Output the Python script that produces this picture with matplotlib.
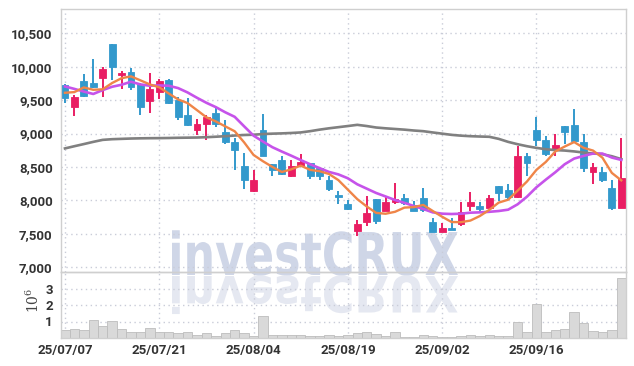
import numpy as np
import pandas as pd
import matplotlib
matplotlib.use('Agg')
import matplotlib.pyplot as plt
from matplotlib.textpath import TextPath
from matplotlib.patches import PathPatch, Rectangle
from matplotlib.font_manager import FontProperties
from matplotlib.transforms import Affine2D, IdentityTransform
from matplotlib.ticker import FuncFormatter

plt.rcParams['font.family'] = ['Roboto', 'DejaVu Sans']
plt.rcParams['mathtext.fontset'] = 'dejavuserif'

# Trading days (15 Aug is a holiday)
days = pd.bdate_range('2025-07-07', '2025-09-29')
days = days[days != pd.Timestamp('2025-08-15')]
dates = [d.strftime('%y/%m/%d') for d in days]

open_ = [9730, 9400, 9790, 9750, 9830, 10340, 9870, 9920, 9740, 9480,
         9620, 9800, 9500, 9280, 9050, 9140, 9300, 9020, 8880, 8520,
         8140, 9050, 8550, 8600, 8360, 8510, 8560, 8480, 8310, 8080,
         7950, 7540, 7680, 8020, 7840, 7980, 8030, 7930, 8030, 7680,
         7530, 7580, 7640, 7920, 7920, 7890, 8210, 8160, 8050, 8660,
         9050, 8900, 8750, 9110, 9130, 8880, 8430, 8420, 8190, 7890]
high = [9740, 9580, 9890, 10110, 9990, 10340, 9940, 9980, 9750, 9900,
        9820, 9820, 9550, 9530, 9220, 9280, 9400, 9200, 8930, 8710,
        8460, 9290, 8550, 8660, 8610, 8690, 8560, 8490, 8360, 8140,
        8010, 7710, 8070, 8020, 8050, 8260, 8090, 7990, 8190, 7730,
        7660, 7740, 7970, 8120, 7970, 8080, 8220, 8250, 8810, 8710,
        9250, 8960, 8990, 9120, 9360, 9000, 8560, 8500, 8300, 8930]
low = [9450, 9260, 9550, 9680, 9550, 9800, 9660, 9650, 9280, 9300,
       9510, 9440, 9200, 9120, 8980, 8910, 9100, 8850, 8460, 8170,
       8120, 8660, 8360, 8380, 8350, 8500, 8320, 8300, 8140, 7950,
       7860, 7460, 7610, 7640, 7840, 7940, 7930, 7840, 7820, 7520,
       7520, 7550, 7610, 7840, 7820, 7890, 7990, 8020, 8040, 8370,
       8810, 8660, 8670, 8850, 8890, 8430, 8250, 8270, 7860, 7890]
close = [9530, 9550, 9560, 9700, 9970, 10000, 9910, 9700, 9400, 9670,
         9790, 9450, 9250, 9130, 9140, 9250, 9140, 8880, 8760, 8310,
         8310, 8670, 8460, 8390, 8510, 8580, 8360, 8360, 8170, 8050,
         7870, 7640, 7810, 7690, 7980, 8020, 7960, 7840, 7860, 7530,
         7580, 7560, 7830, 7980, 7870, 8040, 8110, 8050, 8660, 8560,
         8910, 8700, 8830, 9030, 8890, 8480, 8500, 8300, 7890, 8340]

ma_short = [9610, 9620, 9690, 9655, 9662, 9756, 9828, 9856, 9796, 9735,
            9692, 9600, 9510, 9456, 9350, 9243, 9181, 9107, 9034, 8868,
            8679, 8585, 8500, 8424, 8464, 8519, 8456, 8436, 8394, 8302,
            8160, 8018, 7908, 7812, 7799, 7828, 7891, 7898, 7931, 7841,
            7754, 7675, 7673, 7697, 7765, 7857, 7966, 8009, 8144, 8282,
            8456, 8575, 8731, 8805, 8872, 8786, 8745, 8638, 8410, 8299]
ma_mid = [9705, 9668, 9628, 9592, 9650, 9700, 9730, 9775, 9735, 9715,
          9720, 9715, 9680, 9615, 9535, 9460, 9395, 9318, 9250, 9108,
          8968, 8880, 8795, 8730, 8668, 8603, 8540, 8482, 8425, 8388,
          8330, 8240, 8175, 8110, 8058, 8005, 7962, 7915, 7870, 7820,
          7800, 7795, 7800, 7815, 7820, 7828, 7840, 7860, 7940, 8055,
          8195, 8310, 8420, 8540, 8625, 8665, 8700, 8700, 8640, 8605]
ma_long = [8777, 8810, 8842, 8875, 8905, 8915, 8920, 8925, 8928, 8930,
           8931, 8933, 8936, 8938, 8940, 8945, 8952, 8960, 8970, 8978,
           8982, 8992, 8998, 9002, 9008, 9016, 9035, 9058, 9078, 9095,
           9112, 9130, 9112, 9090, 9078, 9068, 9058, 9045, 9035, 9016,
           8998, 8980, 8968, 8960, 8955, 8951, 8920, 8875, 8840, 8810,
           8785, 8765, 8752, 8745, 8732, 8715, 8702, 8690, 8660, 8617]

volume_m = [0.46, 0.52, 0.46, 1.07, 0.70, 1.01, 0.52, 0.36, 0.36, 0.58,
            0.36, 0.36, 0.28, 0.36, 0.21, 0.28, 0.15, 0.28, 0.46, 0.28,
            0.15, 1.32, 0.21, 0.21, 0.21, 0.21, 0.12, 0.14, 0.20, 0.15,
            0.20, 0.30, 0.36, 0.25, 0.15, 0.36, 0.08, 0.08, 0.20, 0.10,
            0.08, 0.08, 0.15, 0.20, 0.10, 0.20, 0.15, 0.15, 0.97, 0.36,
            2.05, 0.36, 0.46, 0.52, 1.58, 0.90, 0.40, 0.36, 0.46, 3.63]

up_color = '#e91e63'
down_color = '#3399cc'
grid_color = '#c9ccd8'
spine_color = '#cfcfcf'
text_color = '#333333'

W, H = 634, 366
fig = plt.figure(figsize=(W / 100, H / 100), dpi=100)
fig.patch.set_facecolor('white')

ax = fig.add_axes([61 / W, (H - 272) / H, 565 / W, 263 / H])
axv = fig.add_axes([61 / W, (H - 338) / H, 565 / W, 66 / H], sharex=ax)
for a in (ax, axv):
    a.set_facecolor('none')
    for s in a.spines.values():
        s.set_color(spine_color)
        s.set_linewidth(1)
    a.tick_params(length=0, labelsize=9.5, colors=text_color, pad=6)
    a.grid(True, linestyle=(0, (1, 2.5)), color=grid_color, linewidth=1)
    a.set_axisbelow(True)
axv.tick_params(axis='x', pad=4)

# watermark with its reflection
prop = FontProperties(family='DejaVu Sans', weight='bold')
tp = TextPath((0, 0), 'investCRUX', size=1, prop=prop)
bb = tp.get_extents()
sx = 286 / bb.width
sy = 43 / 0.73
base = H - 275
wm = Affine2D().translate(-bb.x0, 0).scale(sx, sy).translate(172, base)
fig.add_artist(PathPatch(wm.transform_path(tp), facecolor='#cfd6e7',
                         edgecolor='none', transform=IdentityTransform(), zorder=-1))
wr = Affine2D().translate(-bb.x0, 0).scale(sx, -sy * 0.85).translate(172, base - 1)
fig.add_artist(PathPatch(wr.transform_path(tp), facecolor='#e5e8f1',
                         edgecolor='none', transform=IdentityTransform(), zorder=-1))

x = np.arange(len(dates))

# candles
for i in x:
    o, h, l, c = open_[i], high[i], low[i], close[i]
    col = up_color if c >= o else down_color
    ax.vlines(i, l, h, color=col, linewidth=1.4, zorder=2)
    bottom = min(o, c)
    height = max(abs(c - o), 12)
    ax.add_patch(Rectangle((i - 0.36, bottom), 0.72, height, facecolor=col,
                           edgecolor=col, linewidth=0.6, zorder=3))

ax.plot(x, ma_long, color='#808080', linewidth=1.9, zorder=4)
ax.plot(x, ma_mid, color='#c653ea', linewidth=1.9, zorder=4)
ax.plot(x, ma_short, color='#ef8548', linewidth=1.7, zorder=4)

ax.set_xlim(-0.42, 59.5)
ax.set_ylim(6927, 10864)
ax.set_yticks(np.arange(7000, 10501, 500))
ax.yaxis.set_major_formatter(FuncFormatter(lambda v, p: f'{int(v):,}'))
for lab in ax.get_yticklabels():
    lab.set_fontweight('bold')
ax.tick_params(axis='x', labelbottom=False)

axv.bar(x, volume_m, width=1.0, color='#d9d9d9', edgecolor='#bdbdbd', linewidth=0.6, zorder=2)
axv.set_ylim(0, 4.0)
axv.set_yticks([1, 2, 3])
ticks = list(range(0, 60, 10))
axv.set_xticks(ticks)
axv.set_xticklabels([dates[t] for t in ticks])
for lab in axv.get_yticklabels() + axv.get_xticklabels():
    lab.set_fontweight('bold')
fig.text(33 / W, (H - 300) / H, '$10^6$', rotation=90, ha='center', va='center',
         fontsize=10, color='#444444')

fig.savefig('out.png', dpi=100, facecolor='white')
